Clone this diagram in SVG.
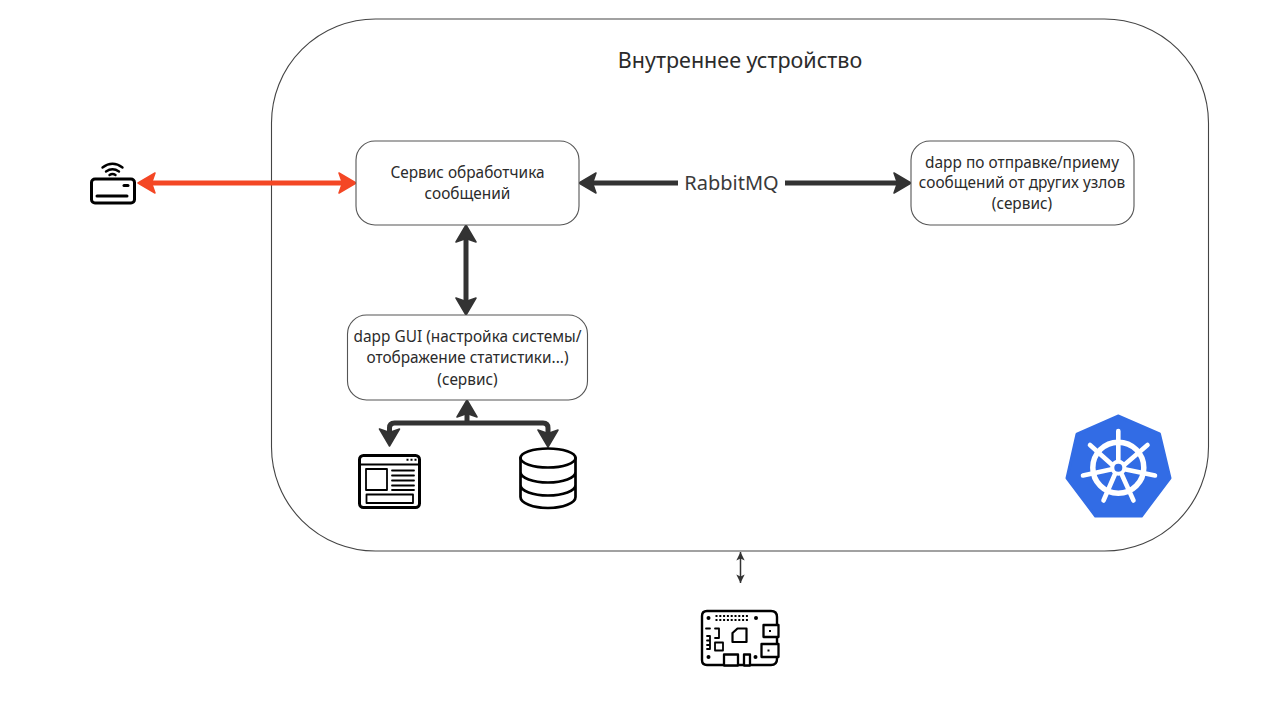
<svg xmlns="http://www.w3.org/2000/svg" width="1280" height="714" viewBox="0 0 1280 714">
<style>
text{font-family:"Noto Sans","Open Sans","DejaVu Sans",sans-serif;fill:#2b2b2b;text-anchor:middle}
.t{font-size:15.4px}
.box{fill:#fff;stroke:#555;stroke-width:1.1}
.c{fill:none;stroke:#333;stroke-width:5}
.i{fill:none;stroke:#000;stroke-width:3;stroke-linejoin:round;stroke-linecap:round}
.i2{fill:none;stroke:#000;stroke-width:1.8;stroke-linecap:round;stroke-linejoin:round}
.b{fill:#fff;stroke:#000;stroke-width:2.3;stroke-linejoin:round}
.w{stroke:#fff;stroke-width:4.6;stroke-linecap:round;fill:none}
</style>
<defs>
<marker id="a" viewBox="0 0 20 24" refX="9" refY="12" markerUnits="userSpaceOnUse" markerWidth="20" markerHeight="24" orient="auto-start-reverse"><path d="M2 2 L19 12 L2 22 L5.500 12 Z" fill="#333" stroke="#333" stroke-width="1.500" stroke-linejoin="round"/></marker>
<marker id="r" viewBox="0 0 20 24" refX="9" refY="12" markerUnits="userSpaceOnUse" markerWidth="20" markerHeight="24" orient="auto-start-reverse"><path d="M2 2 L19 12 L2 22 L5.500 12 Z" fill="#f44725" stroke="#f44725" stroke-width="1.500" stroke-linejoin="round"/></marker>
<marker id="s" viewBox="0 0 10 10" refX="9.500" refY="5" markerUnits="userSpaceOnUse" markerWidth="10" markerHeight="10" orient="auto-start-reverse"><path d="M1 .8 L9.500 5 L1 9.200 L3 5 Z" fill="#333"/></marker>
</defs>
<g id="container"><rect x="271.500" y="19" width="937" height="532" rx="104" ry="104" fill="#fff" stroke="#444" stroke-width="1.100"/>
<text x="740" y="68" style="font-size:21.500px">Внутреннее устройство</text></g>
<g id="connectors">
<path d="M148 183H346" fill="none" stroke="#f44725" stroke-width="5" marker-start="url(#r)" marker-end="url(#r)"/>
<path class="c" d="M589 183H678" marker-start="url(#a)"/>
<path class="c" d="M785 183H901" marker-end="url(#a)"/>
<path class="c" d="M466 235V305" marker-start="url(#a)" marker-end="url(#a)"/>
<path class="c" d="M467 423V410" marker-end="url(#a)"/>
<path class="c" d="M389.500 436V428Q389.500 423 394.500 423H543Q548 423 548 428V437" marker-start="url(#a)" marker-end="url(#a)"/>
<path d="M740.500 552V583" fill="none" stroke="#333" stroke-width="1.500" marker-start="url(#s)" marker-end="url(#s)"/>
</g>
<g id="handler"><rect class="box" x="356" y="141" width="223" height="84" rx="19"/>
<text class="t" x="467.500" y="178">Сервис обработчика</text><text class="t" x="467.500" y="199">сообщений</text></g>
<g id="dapp-messaging"><rect class="box" x="911" y="141" width="223" height="84" rx="19"/>
<text class="t" x="1022" y="168">dapp по отправке/приему</text><text class="t" x="1022" y="188">сообщений от других узлов</text><text class="t" x="1022" y="209">(сервис)</text></g>
<g id="dapp-gui"><rect class="box" x="347.500" y="315" width="240" height="85" rx="19"/>
<text class="t" x="467.500" y="342">dapp GUI (настройка системы/</text><text class="t" x="467.500" y="363">отображение статистики...)</text><text class="t" x="467.500" y="385">(сервис)</text></g>
<g id="rabbitmq"><text x="731.500" y="190" style="font-size:20px;fill:#3a3a3a">RabbitMQ</text></g>
<g id="router">
<rect class="i" x="91.500" y="179" width="43" height="24" rx="3.500"/>
<path class="i" d="M97 196H127"/>
<path d="M124 185.500H128" stroke="#000" stroke-width="3" stroke-linecap="round"/>
<path d="M102.500 167.500Q112.500 160 122.500 167.500M106 171.500Q112.500 167 119 171.500M109.500 175Q112.500 173 115.500 175" fill="none" stroke="#000" stroke-width="2.400" stroke-linecap="round"/>
</g>
<g id="webpage">
<rect class="i" x="359.500" y="455.500" width="60" height="52" rx="4"/>
<path class="i2" d="M360 464.500H419M366 469V490H387V469ZM392 470.500H414M392 475.500H414M392 480.500H414M392 485.500H414M392 490H414M366.500 494.500H413V503H366.500Z"/>
<path d="M406.500 459.800h2M410.500 459.800h2M414.500 459.800h2" stroke="#000" stroke-width="2"/>
</g>
<g id="database">
<ellipse class="i" style="stroke-width:2.700" cx="548" cy="458" rx="27.500" ry="9.500"/>
<path class="i" style="stroke-width:2.700" d="M520.500 458V497C520.500 503 533 508 548 508S575.500 503 575.500 497V458M520.500 472C520.500 478 533 482.500 548 482.500S575.500 478 575.500 472M520.500 485C520.500 491 533 495.500 548 495.500S575.500 491 575.500 485"/>
</g>
<g id="kubernetes">
<path d="M1118 416 1159.500 434 1170 478 1141.500 516H1095.500L1067 478 1077 434Z" fill="#326ce5" stroke="#326ce5" stroke-width="3" stroke-linejoin="round"/>
<circle cx="1118.300" cy="467.700" r="25.500" fill="none" stroke="#fff" stroke-width="5.500"/>
<path class="w" d="M1118.300 460V431M1111.800 464.500 1090 445M1110.700 469.500 1083 475.500M1114.800 474.500 1103.500 500.500M1121.800 474.500 1133.500 500.500M1125.900 469.500 1155 475.500M1124.800 464.500 1147.500 445"/>
<circle cx="1118.300" cy="467.700" r="6" fill="#326ce5" stroke="#fff" stroke-width="4"/>
</g>
<g id="board">
<path class="i2" style="stroke-width:2.400" d="M707 611H771Q777 611 777 617V659Q777 665 771 665H707Q702 665 702 660V616Q702 611 707 611Z"/>
<rect class="b" x="763.500" y="625" width="15" height="12"/>
<rect class="b" x="761.500" y="644" width="17" height="13"/>
<path class="i2" style="stroke-width:2.200" d="M732.500 633L737.500 628.500H746.500V642H732.500Z"/>
<rect class="i2" x="715" y="642.500" width="8" height="8"/>
<rect class="b" x="724" y="654.500" width="14" height="11"/>
<rect class="b" x="744" y="654.500" width="6" height="11"/>
<path d="M715.500 616H749M715.500 620H749" stroke="#000" stroke-width="2" stroke-dasharray="2 1.800"/>
<circle cx="708.500" cy="618" r="2"/><circle cx="756" cy="618" r="2"/><circle cx="708.500" cy="657" r="2"/><circle cx="755.500" cy="657" r="2"/>
<path class="i2" d="M715 628.500H719V638H715M706 628.500H710M707 636H710V649H707M707 640.500H710M707 645H710"/>
<path d="M769 631h2M767.500 650.500h2" stroke="#000" stroke-width="2"/>
</g>
</svg>
